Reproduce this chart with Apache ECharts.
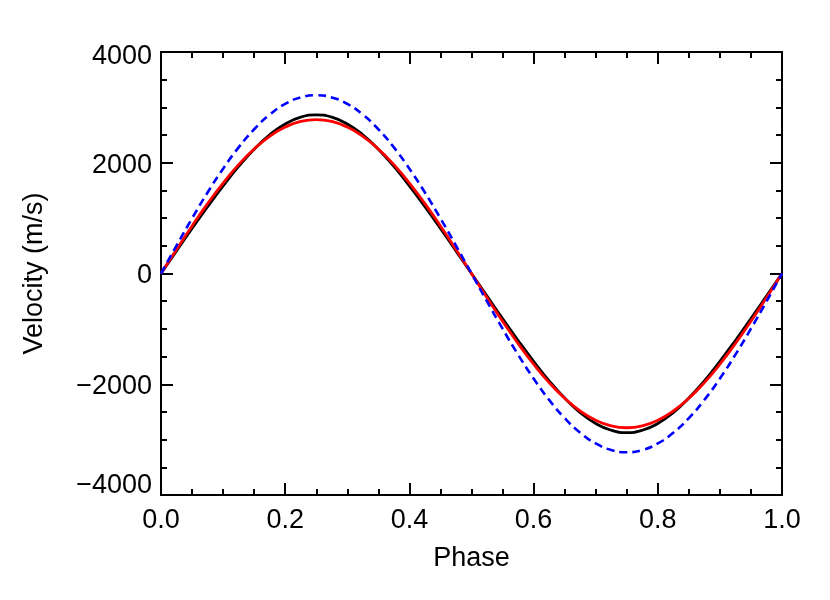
<!DOCTYPE html>
<html>
<head>
<meta charset="utf-8">
<script src="https://cdn.jsdelivr.net/npm/echarts@6/dist/echarts.min.js"></script>
<style>html,body{margin:0;padding:0;background:#fff}#c{width:830px;height:600px}</style>
</head>
<body>
<div id="c"></div>
<script>
const phase = [0,0.025,0.05,0.075,0.1,0.125,0.15,0.175,0.2,0.225,0.25,0.275,0.3,0.325,0.35,0.375,0.4,0.425,0.45,0.475,0.5,0.525,0.55,0.575,0.6,0.625,0.65,0.675,0.7,0.725,0.75,0.775,0.8,0.825,0.85,0.875,0.9,0.925,0.95,0.975,1];
const blackVel = [0,408,812,1206,1582,1933,2244,2504,2701,2823,2865,2823,2701,2504,2244,1933,1582,1206,812,408,0,-409,-814,-1209,-1586,-1939,-2250,-2511,-2709,-2831,-2873,-2831,-2709,-2511,-2250,-1939,-1586,-1209,-814,-409,0];
const redVel = [0,435,859,1262,1634,1966,2249,2477,2644,2746,2780,2746,2644,2477,2249,1966,1634,1262,859,435,0,-436,-861,-1265,-1638,-1970,-2254,-2483,-2650,-2752,-2786,-2752,-2650,-2483,-2254,-1970,-1638,-1265,-861,-436,0];
const blueVel = [0,504,995,1462,1893,2277,2605,2869,3063,3180,3220,3180,3063,2869,2605,2277,1893,1462,995,504,0,-505,-997,-1465,-1897,-2282,-2611,-2875,-3069,-3187,-3227,-3187,-3069,-2875,-2611,-2282,-1897,-1465,-997,-505,0];
const xTitle = 'Phase';
const yTitle = 'Velocity (m/s)';

const FONT = "'Liberation Sans', Arial, Helvetica, sans-serif";
const FS = 27;
const pair = arr => phase.map((p, i) => [p, arr[i]]);

const tickCommon = {
  axisLine: { show: true, onZero: false, lineStyle: { color: '#000', width: 2 } },
  axisTick: { show: true, inside: true, length: 12, lineStyle: { color: '#000', width: 2 } },
  minorTick: { show: true, splitNumber: 4, length: 6, lineStyle: { color: '#000', width: 2 } },
  splitLine: { show: false },
  minorSplitLine: { show: false }
};

const chart = echarts.init(document.getElementById('c'), null, { renderer: 'canvas' });
chart.setOption({
  backgroundColor: '#fff',
  animation: false,
  grid: { left: 161, right: 48, top: 52, bottom: 105, containLabel: false },
  xAxis: [
    Object.assign({
      type: 'value', min: 0, max: 1, interval: 0.2, position: 'bottom',
      name: xTitle, nameLocation: 'middle', nameGap: 50,
      nameTextStyle: { color: '#000', fontSize: FS, fontFamily: FONT },
      axisLabel: { color: '#000', fontSize: FS, fontFamily: FONT, margin: 12,
        formatter: v => v.toFixed(1) }
    }, tickCommon),
    Object.assign({
      type: 'value', min: 0, max: 1, interval: 0.2, position: 'top',
      axisLabel: { show: false }
    }, tickCommon)
  ],
  yAxis: [
    Object.assign({
      type: 'value', min: -4000, max: 4000, interval: 2000, position: 'left',
      name: yTitle, nameLocation: 'middle', nameGap: 113, nameRotate: 90,
      nameTextStyle: { color: '#000', fontSize: FS, fontFamily: FONT },
      axisLabel: { color: '#000', fontSize: FS, fontFamily: FONT, margin: 9,
        formatter: v => {
          const s = String(v).replace('-', '\u2212');
          if (v === 4000) return '{t|' + s + '}';
          if (v === -4000) return '{b|' + s + '}';
          return '{m|' + s + '}';
        },
        rich: {
          t: { fontSize: FS, fontFamily: FONT, color: '#000', padding: [10, 0, 0, 0] },
          b: { fontSize: FS, fontFamily: FONT, color: '#000', padding: [0, 0, 18, 0] },
          m: { fontSize: FS, fontFamily: FONT, color: '#000', padding: [5, 0, 0, 0] }
        }
      }
    }, tickCommon),
    Object.assign({
      type: 'value', min: -4000, max: 4000, interval: 2000, position: 'right',
      axisLabel: { show: false }
    }, tickCommon)
  ],
  series: [
    { type: 'line', name: 'black', data: pair(blackVel), xAxisIndex: 0, yAxisIndex: 0,
      showSymbol: false, smooth: true, lineStyle: { color: '#000', width: 2.8 } },
    { type: 'line', name: 'red', data: pair(redVel), xAxisIndex: 0, yAxisIndex: 0,
      showSymbol: false, smooth: true, lineStyle: { color: '#ff0000', width: 2.8 } },
    { type: 'line', name: 'blue', data: pair(blueVel), xAxisIndex: 0, yAxisIndex: 0,
      showSymbol: false, smooth: true, lineStyle: { color: '#0000ff', width: 2.6, type: [8, 5] } }
  ]
});
</script>
</body>
</html>
